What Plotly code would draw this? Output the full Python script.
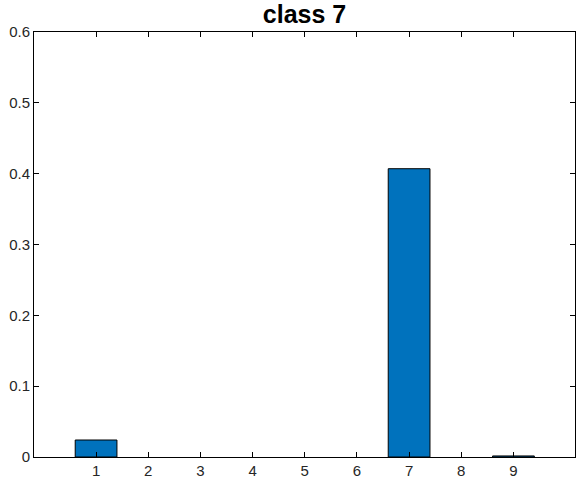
import plotly.graph_objects as go

# data
classes = [1, 2, 3, 4, 5, 6, 7, 8, 9]
values = [0.024, 0, 0, 0, 0, 0, 0.407, 0, 0.0015]
x_ticks = [1, 2, 3, 4, 5, 6, 7, 8, 9]
y_ticks = [0, 0.1, 0.2, 0.3, 0.4, 0.5, 0.6]
y_labels = ["0", "0.1", "0.2", "0.3", "0.4", "0.5", "0.6"]

W, H = 580, 483

# empty bars get no outline, so they vanish into the axis line
edge_widths = [1 if v > 0 else 0 for v in values]

fig = go.Figure(go.Bar(x=classes, y=values, width=0.8,
                       marker=dict(color="#0072BD", line=dict(color="black", width=edge_widths))))

axis_style = dict(showline=True, linecolor="black", linewidth=1, mirror="ticks",
                  ticks="inside", ticklen=5, tickcolor="black", showgrid=False,
                  zeroline=False, automargin=False,
                  tickfont=dict(family="Liberation Sans", size=15, color="#262626"))

fig.update_xaxes(range=[-0.19, 10.18], tickvals=x_ticks, **axis_style)
fig.update_yaxes(range=[0, 0.6], tickvals=y_ticks, ticktext=y_labels, **axis_style)

fig.update_layout(width=W, height=H,
                  margin=dict(l=34, r=5, t=32, b=26),
                  plot_bgcolor="white", paper_bgcolor="white",
                  showlegend=False,
                  title=dict(text="<b>class 7</b>", x=304.5 / W, xanchor="center",
                             y=1 - 14 / H, yanchor="middle",
                             font=dict(family="Liberation Sans", size=25, color="black")))

# drop the default body margin so the figure sits at the page corner
fig.write_html("out.html", config={"displayModeBar": False},
               post_script="document.body.style.margin='0px';")
